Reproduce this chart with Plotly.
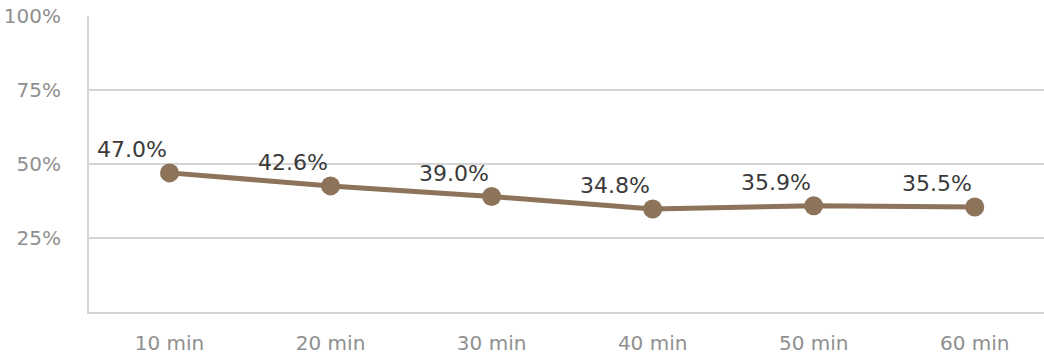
import plotly.graph_objects as go

categories = ["10 min", "20 min", "30 min", "40 min", "50 min", "60 min"]
values = [47.0, 42.6, 39.0, 34.8, 35.9, 35.5]
y_ticks = [25, 50, 75, 100]
y_tick_labels = ["25%", "50%", "75%", "100%"]

line_color = "#8c7359"
grid_color = "#d4d4d4"
font_family = "'DejaVu Sans', sans-serif"

fig = go.Figure()
fig.add_trace(go.Scatter(
    x=categories,
    y=values,
    mode="lines+markers",
    line=dict(color=line_color, width=5),
    marker=dict(color=line_color, size=19),
    hoverinfo="skip",
))

for cat, v in zip(categories, values):
    fig.add_annotation(
        x=cat, y=v, text=f"{v:.1f}%", showarrow=False,
        xanchor="center", yanchor="middle",
        xshift=-38, yshift=23,
        font=dict(family=font_family, size=22, color="#3a3a3a"),
    )

tick_font = dict(family=font_family, size=20, color="#8f8f8f")

fig.update_layout(
    width=1044, height=360,
    margin=dict(l=89, r=0, t=16, b=48, autoexpand=False),
    paper_bgcolor="white", plot_bgcolor="white",
    showlegend=False,
    font=dict(family=font_family),
    xaxis=dict(
        type="category",
        range=[-0.5, 5.43],
        automargin=False,
        showgrid=False,
        showline=True, linecolor=grid_color, linewidth=2,
        ticks="outside", ticklen=12, tickcolor="rgba(0,0,0,0)",
        tickfont=tick_font,
        zeroline=False,
    ),
    yaxis=dict(
        range=[0, 100],
        automargin=False,
        tickvals=y_ticks, ticktext=y_tick_labels,
        showgrid=True, gridcolor=grid_color, gridwidth=2,
        showline=True, linecolor=grid_color, linewidth=2,
        ticks="outside", ticklen=22, tickcolor="rgba(0,0,0,0)",
        tickfont=tick_font,
        zeroline=False,
    ),
)

fig.write_html("out.html")
